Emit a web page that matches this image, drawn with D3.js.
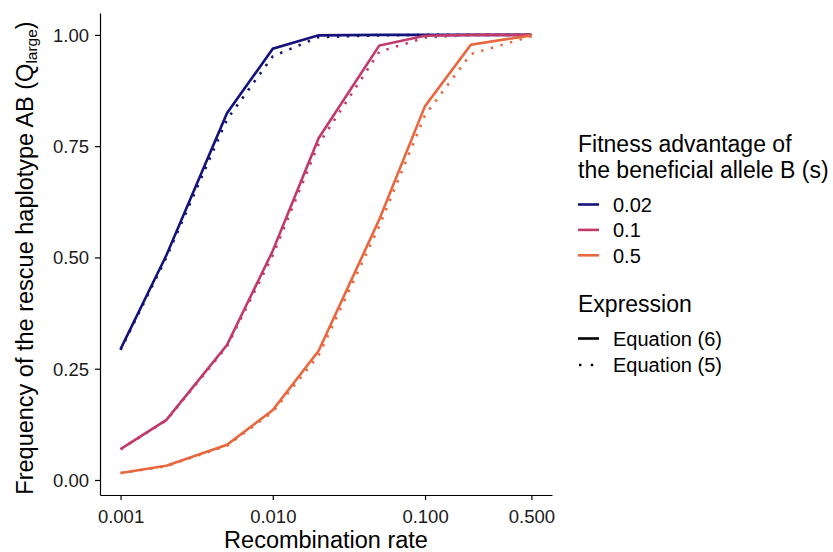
<!DOCTYPE html>
<html><head><meta charset="utf-8">
<script src="https://cdn.jsdelivr.net/npm/d3@7"></script>
<style>body{margin:0;background:#fff}svg{display:block;font-family:"Liberation Sans",Arial,sans-serif}</style>
</head><body><svg id="c" width="833" height="552"></svg>
<script>
const recomb = [0.001, 0.002, 0.005, 0.01, 0.02, 0.05, 0.1, 0.2, 0.5];
const sLevels = ["0.02", "0.1", "0.5"];
const eq6_s002 = [0.294, 0.505, 0.824, 0.969, 0.999, 1, 1, 1, 1];
const eq5_s002 = [0.292, 0.500, 0.810, 0.952, 0.995, 0.999, 1, 1, 1];
const eq6_s01  = [0.0695, 0.135, 0.303, 0.515, 0.768, 0.976, 0.998, 1, 1];
const eq5_s01  = [0.069, 0.134, 0.300, 0.505, 0.755, 0.962, 0.994, 1, 1];
const eq6_s05  = [0.0157, 0.032, 0.079, 0.157, 0.290, 0.585, 0.840, 0.978, 0.999];
const eq5_s05  = [0.0155, 0.031, 0.077, 0.153, 0.280, 0.570, 0.820, 0.957, 0.997];
const xTicks = [0.001, 0.01, 0.1, 0.5];
const xTickLabels = ["0.001", "0.010", "0.100", "0.500"];
const yTicks = [0, 0.25, 0.5, 0.75, 1];
const yTickLabels = ["0.00", "0.25", "0.50", "0.75", "1.00"];
const exprLevels = ["Equation (6)", "Equation (5)"];

const colors = {"0.02": "#15137a", "0.1": "#c03b6c", "0.5": "#e8673f"};
const series = [
  {s: "0.02", expr: "Equation (6)", v: eq6_s002},
  {s: "0.02", expr: "Equation (5)", v: eq5_s002},
  {s: "0.1", expr: "Equation (6)", v: eq6_s01},
  {s: "0.1", expr: "Equation (5)", v: eq5_s01},
  {s: "0.5", expr: "Equation (6)", v: eq6_s05},
  {s: "0.5", expr: "Equation (5)", v: eq5_s05},
];

const svg = d3.select("#c");
const L = 100, R = 552, T = 13, B = 495;
const lx = Math.log10(0.001), hx = Math.log10(0.5), ex = (hx - lx) * 0.05;
const x = d3.scaleLog().domain([Math.pow(10, lx - ex), Math.pow(10, hx + ex)]).range([L, R]);
const ymin = 0.0155, ymax = 1, ey = (ymax - ymin) * 0.05;
const y = d3.scaleLinear().domain([ymin - ey, ymax + ey]).range([B, T]);

const dash = {"Equation (6)": null, "Equation (5)": "2.4,7.6"};
const line = d3.line().x((d, i) => x(recomb[i])).y(d => y(d));
const g = svg.append("g");
series.forEach(sr => {
  g.append("path").attr("d", line(sr.v)).attr("fill", "none")
   .attr("stroke", colors[sr.s]).attr("stroke-width", 2.6)
   .attr("stroke-dasharray", dash[sr.expr]);
});

// axes
const xa = svg.append("g").attr("transform", `translate(0,${B})`)
  .call(d3.axisBottom(x).tickValues(xTicks).tickFormat((d, i) => xTickLabels[i]).tickSize(5).tickSizeOuter(0));
const ya = svg.append("g").attr("transform", `translate(${L},0)`)
  .call(d3.axisLeft(y).tickValues(yTicks).tickFormat((d, i) => yTickLabels[i]).tickSize(5).tickSizeOuter(0));
[xa, ya].forEach(a => {
  a.select(".domain").attr("stroke", "#000").attr("stroke-width", 1.2);
  a.selectAll(".tick line").attr("stroke", "#000").attr("stroke-width", 1.2);
  a.selectAll(".tick text").attr("fill", "#1a1a1a").style("font-size", "18.5px").style("font-family", "Liberation Sans, Arial, sans-serif");
});
xa.selectAll(".tick text").attr("dy", null).attr("y", 27.5);
ya.selectAll(".tick text").attr("x", -11).attr("dy", "0.35em");

svg.append("text").attr("x", (L + R) / 2).attr("y", 548).attr("text-anchor", "middle")
  .style("font-size", "23.5px").text("Recombination rate");
const yt = svg.append("text").attr("transform", `translate(33,258) rotate(-90)`)
  .attr("text-anchor", "middle").style("font-size", "23.5px");
yt.append("tspan").text("Frequency of the rescue haplotype AB (Q");
yt.append("tspan").attr("dy", 4).style("font-size", "15.5px").text("large");
yt.append("tspan").attr("dy", -4).text(")");

// legend
const lg = svg.append("g");
lg.append("text").attr("x", 578).attr("y", 152).style("font-size", "23px").text("Fitness advantage of");
lg.append("text").attr("x", 578).attr("y", 177.5).style("font-size", "23px").text("the beneficial allele B (s)");
sLevels.forEach((s, i) => {
  const yy = 204.5 + i * 25.4;
  lg.append("line").attr("x1", 578).attr("x2", 599).attr("y1", yy).attr("y2", yy)
    .attr("stroke", colors[s]).attr("stroke-width", 2.6);
  lg.append("text").attr("x", 613).attr("y", yy + 7.3).style("font-size", "20px").text(s);
});
lg.append("text").attr("x", 578).attr("y", 311.5).style("font-size", "23px").text("Expression");
exprLevels.forEach((e, i) => {
  const yy = 338.5 + i * 26.5;
  lg.append("line").attr("x1", 578).attr("x2", 599).attr("y1", yy).attr("y2", yy)
    .attr("stroke", "#000").attr("stroke-width", 2.6)
    .attr("stroke-dasharray", e === "Equation (5)" ? "2.4,9.4" : null)
    .attr("stroke-dashoffset", e === "Equation (5)" ? -1 : null);
  lg.append("text").attr("x", 613).attr("y", yy + 7.3).style("font-size", "20px").text(e);
});
</script></body></html>
